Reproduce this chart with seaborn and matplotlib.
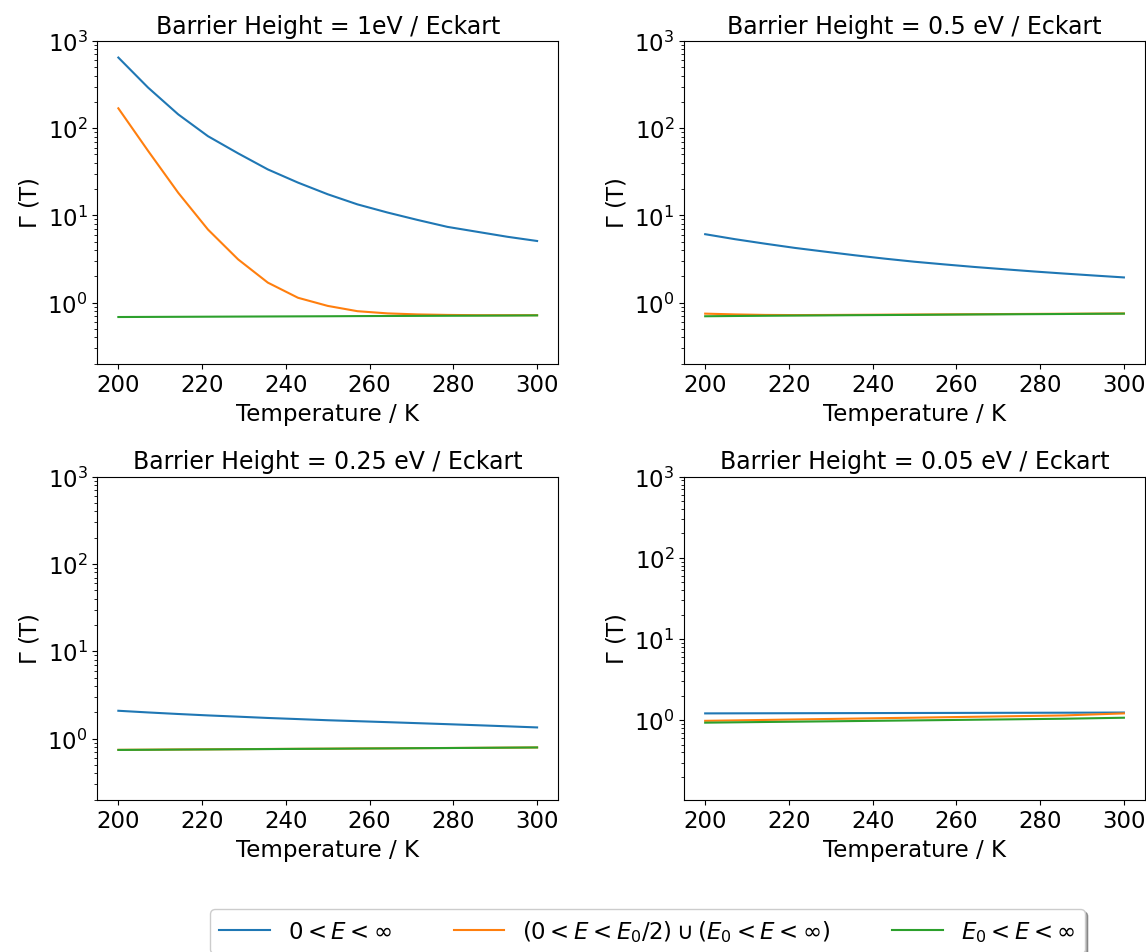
import numpy as np
import pandas as pd
import matplotlib
matplotlib.use("Agg")
import matplotlib.pyplot as plt
import seaborn as sns

# ---------------- data ----------------
temperature = [200.0, 207.1, 214.3, 221.4, 228.6, 235.7, 242.9, 250.0,
               257.1, 264.3, 271.4, 278.6, 285.7, 292.9, 300.0]

titles = ["Barrier Height = 1eV / Eckart",
          "Barrier Height = 0.5 eV / Eckart",
          "Barrier Height = 0.25 eV / Eckart",
          "Barrier Height = 0.05 eV / Eckart"]

series_labels = [r"$0 < E < \infty$",
                 r"$(0 < E < E_0/2) \cup (E_0 < E < \infty)$",
                 r"$E_0 < E < \infty$"]

# Barrier 1 eV
full_1 = [645, 292, 144, 81, 51.5, 33.7, 23.8, 17.5, 13.4, 10.8, 8.9, 7.4, 6.5, 5.7, 5.1]
split_1 = [169, 55, 18.2, 6.9, 3.14, 1.70, 1.14, 0.92, 0.80, 0.755, 0.735, 0.725, 0.72, 0.72, 0.72]
above_1 = [0.686, 0.688, 0.690, 0.692, 0.694, 0.696, 0.698, 0.700,
           0.703, 0.705, 0.707, 0.709, 0.711, 0.713, 0.716]

# Barrier 0.5 eV
full_2 = [6.1, 5.35, 4.75, 4.25, 3.85, 3.5, 3.2, 2.95, 2.75, 2.57, 2.42, 2.28, 2.16, 2.05, 1.95]
split_2 = [0.75, 0.735, 0.725, 0.722, 0.724, 0.727, 0.730, 0.733,
           0.736, 0.739, 0.742, 0.745, 0.748, 0.751, 0.754]
above_2 = [0.700, 0.705, 0.709, 0.713, 0.716, 0.720, 0.723, 0.726,
           0.730, 0.734, 0.737, 0.740, 0.743, 0.747, 0.750]

# Barrier 0.25 eV
full_3 = [2.08, 1.99, 1.91, 1.84, 1.78, 1.72, 1.67, 1.62, 1.58, 1.54, 1.50, 1.46, 1.42, 1.38, 1.34]
split_3 = [0.742, 0.745, 0.749, 0.752, 0.755, 0.759, 0.762, 0.765,
           0.769, 0.772, 0.775, 0.779, 0.782, 0.786, 0.790]
above_3 = [0.740, 0.743, 0.747, 0.750, 0.754, 0.757, 0.761, 0.764,
           0.768, 0.771, 0.775, 0.778, 0.782, 0.786, 0.790]

# Barrier 0.05 eV
full_4 = [1.21, 1.212, 1.214, 1.216, 1.218, 1.220, 1.222, 1.224,
          1.226, 1.228, 1.230, 1.232, 1.234, 1.236, 1.240]
split_4 = [0.98, 0.992, 1.005, 1.018, 1.031, 1.044, 1.058, 1.071,
           1.085, 1.099, 1.113, 1.127, 1.142, 1.176, 1.21]
above_4 = [0.93, 0.939, 0.948, 0.956, 0.965, 0.974, 0.983, 0.992,
           1.001, 1.011, 1.020, 1.030, 1.040, 1.055, 1.07]

panels = [(full_1, split_1, above_1),
          (full_2, split_2, above_2),
          (full_3, split_3, above_3),
          (full_4, split_4, above_4)]
y_bottoms = [0.2, 0.2, 0.2, 0.105]
y_top = 1000

colors = ["#1f77b4", "#ff7f0e", "#2ca02c"]

# ---------------- plot ----------------
plt.rcParams["font.family"] = ["DejaVu Sans"]
FS = 16.5
TFS = 17

fig, axes = plt.subplots(2, 2, figsize=(11.46, 9.53), dpi=100)
fig.subplots_adjust(left=0.085, right=0.999, top=0.956, bottom=0.16,
                    wspace=0.274, hspace=0.35)

for ax, title, series, yb in zip(axes.flat, titles, panels, y_bottoms):
    for vals, lab, col in zip(series, series_labels, colors):
        df = pd.DataFrame({"T": temperature, "G": vals})
        sns.lineplot(data=df, x="T", y="G", ax=ax, color=col, label=lab,
                     linewidth=1.5, legend=False)
    ax.set_yscale("log")
    ax.set_ylim(yb, y_top)
    ax.set_xlim(195, 305)
    ax.set_xticks([200, 220, 240, 260, 280, 300])
    ax.set_title(title, fontsize=TFS)
    ax.set_xlabel("Temperature / K", fontsize=FS)
    ax.set_ylabel(r"$\Gamma$ (T)", fontsize=FS)
    ax.tick_params(labelsize=FS)

handles, labels = axes.flat[0].get_legend_handles_labels()
fig.legend(handles, labels, loc="upper center", bbox_to_anchor=(0.565, 0.057),
           ncol=3, fontsize=16.5, shadow=True, fancybox=True,
           columnspacing=2.7, handlelength=2.2)

fig.savefig("out.png", dpi=100)
